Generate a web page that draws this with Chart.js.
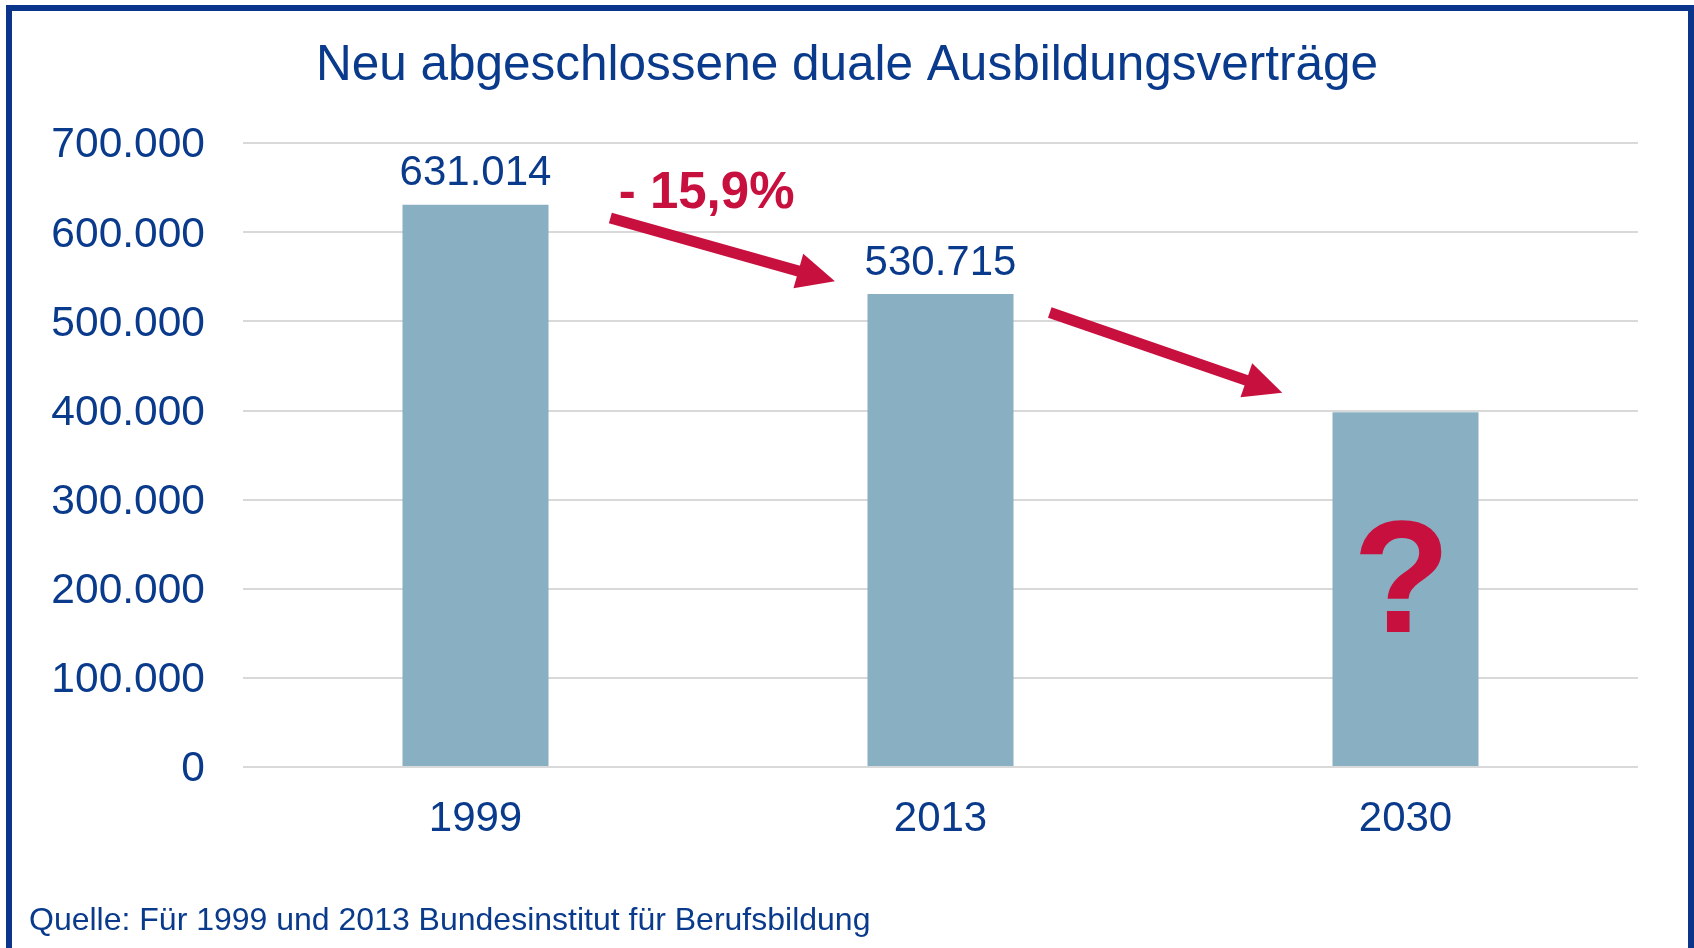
<!DOCTYPE html>
<html>
<head>
<meta charset="utf-8">
<script src="https://cdn.jsdelivr.net/npm/chart.js@4.4.1/dist/chart.umd.min.js"></script>
<style>
  html, body { margin: 0; padding: 0; background: #fff; overflow: hidden; }
  #wrap { position: relative; width: 1694px; height: 948px; overflow: hidden; }
  #chart { display: block; }
  #frame {
    position: absolute; left: 6px; top: 5px; width: 1688px; height: 1000px;
    box-sizing: border-box; border: 6px solid #0B358A; border-bottom: none;
    pointer-events: none;
  }
  #source {
    position: absolute; left: 29px; top: 903px;
    font-family: "Liberation Sans", Arial, sans-serif; font-size: 32px; line-height: 32px;
    color: #0A3A8C; white-space: nowrap;
  }
</style>
</head>
<body>
<div id="wrap">
  <canvas id="chart" width="1694" height="948"></canvas>
  <div id="frame"></div>
  <div id="source">Quelle: Für 1999 und 2013 Bundesinstitut für Berufsbildung</div>
</div>
<script>
// data
let years = ['1999', '2013', '2030'];
let contracts = [631014, 530715, 398000];
let isForecast = [false, false, true];
let yMax = 700000;
let yStep = 100000;

const navy = '#0A3A8C';
const red = '#C8103F';
const barColor = '#89B0C2';
const font = '"Liberation Sans", Arial, sans-serif';

// german thousands separator
function fmt(v) {
    return String(v).replace(/\B(?=(\d{3})+(?!\d))/g, '.');
}

let change = (contracts[1] - contracts[0]) / contracts[0] * 100;
let changeText = (change < 0 ? '- ' : '+ ') + Math.abs(change).toFixed(1).replace('.', ',') + '%';

// annotations in data space (x = category index, y = value)
let arrows = [
    { from: [0.29, 616000], to: [0.773, 545000] },
    { from: [1.235, 510000], to: [1.735, 420000] }
];

function drawArrow(ctx, x1, y1, x2, y2) {
    const ang = Math.atan2(y2 - y1, x2 - x1);
    const headLen = 38, headW = 18;
    const bx = x2 - headLen * Math.cos(ang);
    const by = y2 - headLen * Math.sin(ang);
    ctx.strokeStyle = red;
    ctx.fillStyle = red;
    ctx.lineWidth = 11;
    ctx.lineCap = 'butt';
    ctx.beginPath();
    ctx.moveTo(x1, y1);
    ctx.lineTo(bx + 4 * Math.cos(ang), by + 4 * Math.sin(ang));
    ctx.stroke();
    ctx.beginPath();
    ctx.moveTo(x2, y2);
    ctx.lineTo(bx + headW * Math.sin(ang), by - headW * Math.cos(ang));
    ctx.lineTo(bx - headW * Math.sin(ang), by + headW * Math.cos(ang));
    ctx.closePath();
    ctx.fill();
}

const extras = {
    id: 'extras',
    afterLayout(chart) {
        // centre the title across the whole canvas
        if (chart.titleBlock) {
            chart.titleBlock.left = 0;
            chart.titleBlock.right = chart.width;
        }
    },
    afterDatasetsDraw(chart) {
        const ctx = chart.ctx;
        const xs = chart.scales.x, ys = chart.scales.y;
        const bars = chart.getDatasetMeta(0).data;
        ctx.save();

        // value labels
        ctx.font = '42px ' + font;
        ctx.fillStyle = navy;
        ctx.textAlign = 'center';
        ctx.textBaseline = 'alphabetic';
        bars.forEach((b, i) => {
            if (!isForecast[i]) ctx.fillText(fmt(contracts[i]), b.x, b.y - 19.5);
        });

        // arrows
        arrows.forEach(a => {
            drawArrow(ctx,
                xs.getPixelForValue(a.from[0]), ys.getPixelForValue(a.from[1]),
                xs.getPixelForValue(a.to[0]), ys.getPixelForValue(a.to[1]));
        });

        // change label
        ctx.font = 'bold 51px ' + font;
        ctx.fillStyle = red;
        ctx.fillText(changeText, xs.getPixelForValue(0.497), ys.getPixelForValue(627000));

        // question mark in forecast bar
        ctx.font = 'bold 160px ' + font;
        bars.forEach((b, i) => {
            if (isForecast[i]) ctx.fillText('?', b.x - 4, ys.getPixelForValue(151500));
        });
        ctx.restore();
    }
};

const config = {
    type: 'bar',
    data: {
        labels: years,
        datasets: [{
            data: contracts,
            backgroundColor: barColor,
            borderWidth: 0,
            barPercentage: 0.314,
            categoryPercentage: 1
        }]
    },
    options: {
        responsive: false,
        animation: false,
        devicePixelRatio: 1,
        layout: { padding: { left: 0, right: 56, top: 0, bottom: 101 } },
        plugins: {
            legend: { display: false },
            tooltip: { enabled: false },
            title: {
                display: true,
                text: 'Neu abgeschlossene duale Ausbildungsverträge',
                color: navy,
                font: { family: font, size: 49.5, weight: 'normal' },
                padding: { top: 36.8, bottom: 47 }
            }
        },
        scales: {
            x: {
                grid: { display: false, drawTicks: false },
                border: { display: false },
                ticks: { color: navy, font: { family: font, size: 42 }, padding: 27 },
                afterFit(s) { s.height = 80; }
            },
            y: {
                min: 0,
                max: yMax,
                grid: { color: '#D9D9D9', lineWidth: 2, drawTicks: false },
                border: { display: false },
                ticks: {
                    stepSize: yStep,
                    color: navy,
                    font: { family: font, size: 42.5 },
                    padding: 38,
                    labelOffset: 2.5,
                    callback: v => fmt(v)
                },
                afterFit(s) { s.width = 243; }
            }
        }
    },
    plugins: [extras]
};

const chart = new Chart(document.getElementById('chart'), config);
</script>
</body>
</html>
